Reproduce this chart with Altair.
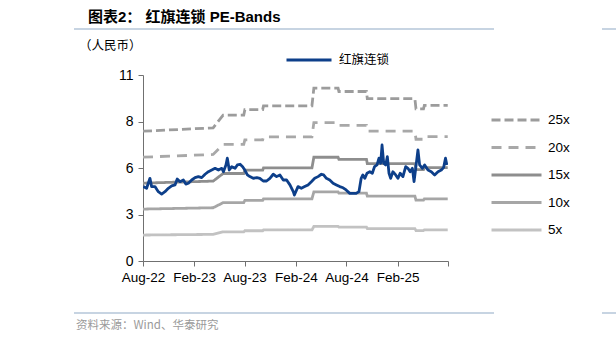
import altair as alt
import pandas as pd

# ---- price series (红旗连锁, RMB); dates given as days after 2022-08-01 ----
price_day_offsets = [
    1, 13, 25, 31, 43, 55, 67, 79, 91, 103, 115, 123, 133, 145, 154, 163, 175, 187,
    199, 211, 223, 235, 247, 259, 271, 283, 289, 298, 303, 310, 319, 331, 339, 349,
    358, 366, 375, 384, 396, 409, 420, 432, 444, 456, 468, 480, 492, 504, 516, 528,
    540, 544, 557, 569, 581, 593, 605, 617, 629, 641, 649, 659, 671, 683, 695, 707,
    719, 730, 743, 755, 766, 776, 784, 790, 797, 805, 815, 824, 832, 841, 848, 854,
    859, 865, 872, 878, 884, 890, 898, 908, 916, 924, 934, 944, 952, 960, 968, 974,
    980, 988, 994, 1004, 1012, 1024, 1036, 1048, 1060, 1072, 1080, 1087, 1092,
]
price_values = [
    4.40, 4.30, 4.89, 4.40, 4.40, 4.10, 3.96, 4.10, 4.30, 4.44, 4.50, 4.85, 4.69, 4.79, 4.55, 4.60, 4.79, 4.93,
    4.99, 4.93, 5.13, 5.28, 5.38, 5.48, 5.38, 5.48, 5.28, 5.68, 6.08, 5.38, 5.58, 5.48, 5.68, 5.72,
    5.58, 5.38, 5.09, 4.99, 4.89, 4.93, 4.89, 4.73, 4.73, 4.89, 5.13, 4.99, 5.09, 4.79, 4.79, 4.50,
    4.10, 3.90, 4.40, 4.30, 4.40, 4.50, 4.69, 4.89, 4.99, 5.13, 5.09, 4.89, 4.79, 4.60, 4.50, 4.40,
    4.33, 4.20, 4.00, 4.00, 4.00, 4.10, 4.89, 5.09, 4.89, 5.19, 5.28, 5.19, 5.58, 5.68, 6.08, 5.78,
    6.86, 5.78, 5.68, 6.17, 5.19, 4.89, 5.28, 5.09, 4.89, 5.19, 4.99, 5.58, 5.48, 5.28, 5.48, 4.69,
    5.48, 6.57, 5.68, 5.48, 5.68, 5.38, 5.28, 5.09, 5.28, 5.38, 5.52, 6.08, 5.68,
]

# ---- EPS steps behind the PE bands ----
eps_start_dates = ["2022-08-01", "2023-05-16", "2023-08-02", "2023-10-08", "2024-04-06",
                   "2024-07-05", "2024-10-15", "2025-04-08", "2025-05-08"]
eps_end_dates = ["2023-04-10", "2023-07-29", "2023-10-05", "2024-03-30", "2024-07-02",
                 "2024-10-12", "2025-04-04", "2025-05-05", "2025-07-31"]
eps_start_values = [0.307, 0.345, 0.358, 0.367, 0.409, 0.401, 0.384, 0.360, 0.368]
eps_end_values = [0.315, 0.345, 0.358, 0.367, 0.409, 0.401, 0.384, 0.360, 0.368]

band_multiples = [25, 20, 15, 10, 5]
band_labels = ["25x", "20x", "15x", "10x", "5x"]
band_colors = ["#9C9C9C", "#A8A8A8", "#8E8E8E", "#A6A6A6", "#C2C2C2"]
band_dashes = [[9, 4], [10, 7], [1, 0], [1, 0], [1, 0]]
band_widths = [2.8, 2.8, 2, 1.6, 1.6]

y_ticks = [0, 2.75, 5.5, 8.25, 11]

# ---- tables ----
base_day = pd.Timestamp("2022-08-01")
price_df = pd.DataFrame({
    "date": [(base_day + pd.Timedelta(days=d)).strftime("%Y-%m-%d") for d in price_day_offsets],
    "value": price_values,
    "series": "红旗连锁",
})

rows = []
for m, lab in zip(band_multiples, band_labels):
    for s, e, vs, ve in zip(eps_start_dates, eps_end_dates, eps_start_values, eps_end_values):
        rows.append({"date": s, "value": vs * m, "band": lab})
        rows.append({"date": e, "value": ve * m, "band": lab})
band_df = pd.DataFrame(rows)

LAT = "Liberation Sans, Arial, Noto Sans CJK SC"
CJK = "Noto Sans CJK SC"

x_enc = alt.X(
    "date:T",
    scale=alt.Scale(type="utc",
                    domain=[alt.DateTime(year=2022, month=8, date=1, utc=True),
                            alt.DateTime(year=2025, month=8, date=1, utc=True)]),
    axis=alt.Axis(
        title=None,
        values=[alt.DateTime(year=y, month=mo, date=1, utc=True)
                for y, mo in [(2022, 8), (2023, 2), (2023, 8), (2024, 2), (2024, 8), (2025, 2), (2025, 8)]],
        labelExpr="datum.index >= 0.99 ? '' : utcFormat(datum.value, '%b-%y')",
        grid=False, domainColor="#707070", tickColor="#707070", tickSize=5,
        labelFont=LAT, labelFontSize=13.5, labelColor="#000000", labelPadding=4,
        labelOverlap=False, labelFlush=False,
    ),
)
y_enc = alt.Y(
    "value:Q",
    scale=alt.Scale(domain=[0, 11], nice=False, zero=False),
    axis=alt.Axis(
        title=None, values=y_ticks, format=".0f", grid=False,
        domainColor="#707070", tickColor="#707070", tickSize=5,
        labelFont=LAT, labelFontSize=14, labelColor="#000000", labelPadding=5,
    ),
)

band_legend = alt.Legend(
    title=None, orient="none", legendX=347, legendY=37,
    symbolType="stroke", symbolSize=2500, clipHeight=16, rowPadding=11.5,
    labelFont=LAT, labelFontSize=13.5, labelColor="#000000", labelOffset=5,
)

bands = alt.Chart(band_df).mark_line(clip=True).encode(
    x=x_enc,
    y=y_enc,
    color=alt.Color("band:N", scale=alt.Scale(domain=band_labels, range=band_colors), legend=band_legend),
    strokeDash=alt.StrokeDash("band:N", scale=alt.Scale(domain=band_labels, range=band_dashes), legend=band_legend),
    strokeWidth=alt.StrokeWidth("band:N", scale=alt.Scale(domain=band_labels, range=band_widths), legend=band_legend),
    detail="band:N",
)

price = alt.Chart(price_df).mark_line(strokeWidth=2.8, clip=True, strokeJoin="round").encode(
    x=alt.X("date:T"),
    y=alt.Y("value:Q"),
    stroke=alt.Stroke(
        "series:N",
        scale=alt.Scale(domain=["红旗连锁"], range=["#0D3F8A"]),
        legend=alt.Legend(title=None, orient="none", legendX=142, legendY=-22,
                          symbolType="stroke", symbolSize=2025, clipHeight=14,
                          symbolStrokeWidth=3, labelFont=CJK, labelFontSize=12.5,
                          labelColor="#000000", labelOffset=6),
    ),
)

dummy = pd.DataFrame({"a": [0]})


def txt(s, x, y, size, color="#000000", weight="normal", font=CJK):
    return alt.Chart(dummy).mark_text(
        text=s, align="left", baseline="middle", fontSize=size, color=color,
        fontWeight=weight, font=font,
    ).encode(x=alt.value(x), y=alt.value(y))


def hline(x1, x2, y, color):
    return alt.Chart(dummy).mark_rule(color=color, strokeWidth=1.5).encode(
        x=alt.value(x1), x2=alt.value(x2), y=alt.value(y))


# positions relative to plot origin at (143, 75)
title = alt.Chart(dummy).mark_text(
    text="图表2：  红旗连锁 PE-Bands", align="left", baseline="middle", fontSize=15,
    fontWeight="bold", font="Liberation Sans, Noto Sans CJK SC", color="#000000",
).encode(x=alt.value(-55), y=alt.value(-58))
unit = txt("（人民币）", -64, -29, 12.5)
top_line = hline(-69, 351, -46, "#B4C6D8")
bot_line = hline(-69, 351, 238, "#B4C6D8")
source = txt("资料来源：Wind、华泰研究", -67, 251, 11.5, color="#9A9A9A")
edge_line1 = hline(459, 480, -46, "#B4C6D8")
edge_line2 = hline(459, 480, 238, "#B4C6D8")

chart = alt.layer(
    bands, price, title, unit, top_line, bot_line, source, edge_line1, edge_line2,
).resolve_scale(
    color="independent", stroke="independent", strokeDash="independent", strokeWidth="independent"
).properties(
    width=305, height=186,
    autosize=alt.AutoSizeParams(type="none"),
    padding={"left": 143, "top": 75, "right": 168, "bottom": 82},
    background="#FFFFFF",
).configure_view(stroke=None)

chart.save("out.html", embed_options={"renderer": "svg", "actions": False})
